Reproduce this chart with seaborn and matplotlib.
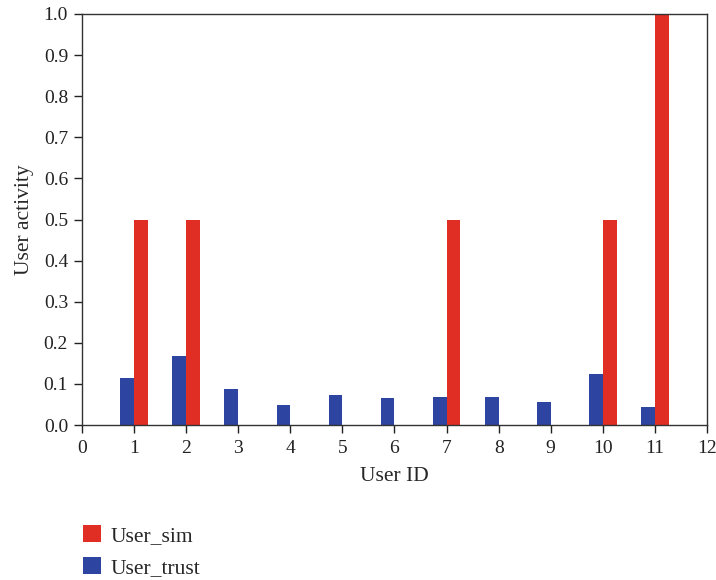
import numpy as np
import pandas as pd
import matplotlib
matplotlib.use("Agg")
import matplotlib.pyplot as plt
from matplotlib.patches import Patch
import seaborn as sns

# Per-user activity values
user_ids = [1, 2, 3, 4, 5, 6, 7, 8, 9, 10, 11]
user_trust = [0.114, 0.168, 0.088, 0.049, 0.073, 0.066, 0.068, 0.068, 0.056, 0.124, 0.044]
user_sim = [0.5, 0.5, 0.0, 0.0, 0.0, 0.0, 0.5, 0.0, 0.0, 0.5, 1.0]
x_ticks = list(range(0, 13))
y_ticks = [0.0, 0.1, 0.2, 0.3, 0.4, 0.5, 0.6, 0.7, 0.8, 0.9, 1.0]

RED = "#E02E25"
BLUE = "#2E44A1"

df = pd.DataFrame({
    "User ID": user_ids * 2,
    "value": user_trust + user_sim,
    "series": ["User_trust"] * len(user_ids) + ["User_sim"] * len(user_ids),
})

sns.set_style("ticks")
plt.rcParams["font.family"] = ["Liberation Serif", "DejaVu Serif"]

fig = plt.figure(figsize=(7.16, 5.8), dpi=100)
ax = fig.add_axes([0.1145, 0.2672, 0.8729, 0.7087])

sns.barplot(
    data=df, x="User ID", y="value", hue="series",
    hue_order=["User_trust", "User_sim"],
    palette={"User_trust": BLUE, "User_sim": RED},
    native_scale=True, width=0.53, errorbar=None,
    linewidth=0, saturation=1, legend=False, ax=ax,
)

ax.set_xlim(0, 12)
ax.set_ylim(0, 1.0)
ax.set_xticks(x_ticks)
ax.set_xticklabels([str(t) for t in x_ticks])
ax.set_yticks(y_ticks)
ax.set_yticklabels([f"{t:.1f}" for t in y_ticks])
ax.tick_params(axis="both", direction="out", length=6, width=1,
               colors="#222222", labelsize=14)
ax.tick_params(axis="x", pad=5)
ax.tick_params(axis="y", pad=4)
for side in ["left", "bottom", "top", "right"]:
    ax.spines[side].set_visible(True)
    ax.spines[side].set_linewidth(1.0)
    ax.spines[side].set_color("#333333")

ax.set_xlabel("User ID", fontsize=15.5, labelpad=7)
ax.set_ylabel("User activity", fontsize=15.5, labelpad=7)

handles = [Patch(facecolor=RED, edgecolor="none", label="User_sim"),
           Patch(facecolor=BLUE, edgecolor="none", label="User_trust")]
fig.legend(handles=handles, loc="upper left", bbox_to_anchor=(0.1036, 0.11),
           frameon=False, handlelength=0.85, handleheight=0.85,
           handletextpad=0.45, labelspacing=0.5, fontsize=15.5,
           borderaxespad=0)

fig.savefig("out.png", dpi=100, facecolor="white")
